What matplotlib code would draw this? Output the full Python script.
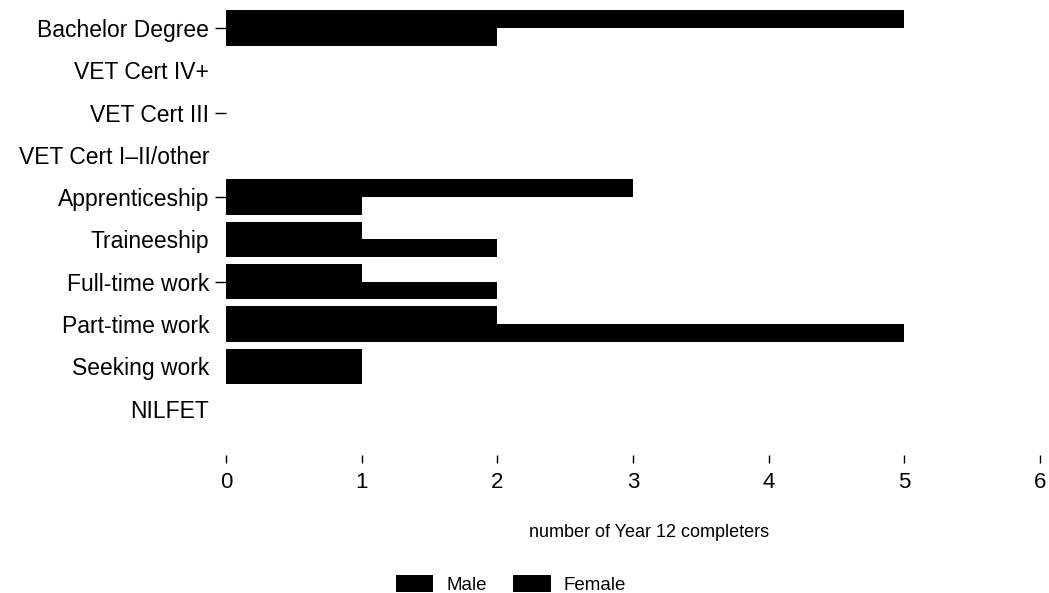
import matplotlib
matplotlib.use("Agg")
import matplotlib.pyplot as plt
import numpy as np

# data
categories = ["Bachelor Degree", "VET Cert IV+", "VET Cert III", "VET Cert I\u2013II/other",
              "Apprenticeship", "Traineeship", "Full-time work", "Part-time work",
              "Seeking work", "NILFET"]
male = [5, 0, 0, 0, 3, 1, 1, 2, 1, 0]
female = [2, 0, 0, 0, 1, 2, 2, 5, 1, 0]
x_ticks = [0, 1, 2, 3, 4, 5, 6]
# categories whose y tick dash shows in the scan
dash_ticks = ["Bachelor Degree", "VET Cert III", "Apprenticeship", "Full-time work"]

plt.rcParams["font.family"] = ["Liberation Sans", "DejaVu Sans"]

fig = plt.figure(figsize=(10.49, 5.93), dpi=100)
ax = fig.add_axes([0.2154, 0.2327, 0.776, 0.7555])

y = np.arange(len(categories))
h = 0.42
ax.barh(y - h / 2, male, height=h, color="black", label="Male")
ax.barh(y + h / 2, female, height=h, color="black", label="Female")

ax.set_xlim(0, 6)
ax.set_ylim(len(categories) - 1 + 1.1, -0.5)
ax.set_xticks(x_ticks)
ax.set_xticklabels([str(t) for t in x_ticks], fontsize=16)
ax.set_yticks(y)
ax.set_yticklabels(categories, fontsize=16.5)
ax.tick_params(axis="x", length=6, width=1, pad=6)
ax.tick_params(axis="y", length=8, width=1, pad=4)
for tick, name in zip(ax.yaxis.get_major_ticks(), categories):
    if name not in dash_ticks:
        tick.tick1line.set_visible(False)

for s in ax.spines.values():
    s.set_visible(False)

ax.set_xlabel("number of Year 12 completers", fontsize=13)
ax.xaxis.set_label_coords(0.52, -0.155)

fig.legend(loc="lower center", bbox_to_anchor=(0.487, -0.03), ncol=2, frameon=False,
           fontsize=13.5, handlelength=2.0, handleheight=1.0, columnspacing=1.4,
           handletextpad=0.7)

fig.savefig("out.png", dpi=100)
